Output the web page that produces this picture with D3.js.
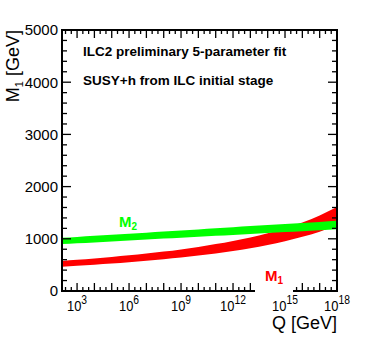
<!DOCTYPE html>
<html>
<head>
<meta charset="utf-8">
<script src="https://cdn.jsdelivr.net/npm/d3@7"></script>
<style>
  body { margin: 0; background: #fff; }
  svg text { font-family: "Liberation Sans", Arial, sans-serif; }
</style>
</head>
<body>
<div id="chart"></div>
<script>
const scaleQ = [135, 1e3, 1e4, 1e5, 1e6, 1e7, 1e8, 1e9, 1e10, 1e11, 1e12, 1e13, 1e14, 1e15, 1e16, 1e17, 1e18];

// M1 band (GeV)
const m1Low  = [466, 482, 503, 526, 551, 579, 609, 641, 679, 720, 767, 821, 883, 954, 1037, 1137, 1263];
const m1High = [576, 598, 623, 652, 683, 717, 755, 797, 845, 898, 959, 1027, 1107, 1202, 1313, 1447, 1607];

// M2 band (GeV)
const m2Low  = [898, 914, 931, 949, 968, 986, 1004, 1022, 1040, 1058, 1075, 1093, 1111, 1129, 1146, 1164, 1182];
const m2High = [1018, 1036, 1057, 1077, 1098, 1118, 1138, 1158, 1180, 1200, 1221, 1243, 1263, 1283, 1304, 1324, 1346];

const yTicks = [0, 1000, 2000, 3000, 4000, 5000];
const xLabelExp = [3, 6, 9, 12, 15, 18];
const infoLines = ['ILC2 preliminary 5-parameter fit', 'SUSY+h from ILC initial stage'];

const width = 366, height = 355;
const marginLeft = 62, plotRight = 337, marginTop = 30, plotBottom = 291;

const svg = d3.select('#chart').append('svg')
  .attr('width', width).attr('height', height);

const x = d3.scaleLog().domain([135, 1e18]).range([marginLeft, plotRight]);
const y = d3.scaleLinear().domain([0, 5000]).range([plotBottom, marginTop]);

const rows = scaleQ.map((q, i) => ({ q, l1: m1Low[i], h1: m1High[i], l2: m2Low[i], h2: m2High[i] }));

const $vis = svg.append('g');

// bands
$vis.append('path')
  .datum(rows)
  .attr('fill', '#ff0000')
  .attr('d', d3.area().curve(d3.curveMonotoneX)
    .x(d => x(d.q)).y0(d => y(d.l1)).y1(d => y(d.h1)));

$vis.append('path')
  .datum(rows)
  .attr('fill', '#00ff00')
  .attr('d', d3.area().curve(d3.curveMonotoneX)
    .x(d => x(d.q)).y0(d => y(d.l2)).y1(d => y(d.h2)));

// y ticks, minor every 200, on both sides
const $axes = svg.append('g').attr('stroke', '#000').attr('stroke-width', 1.3);
d3.range(0, 5001, 200).forEach(v => {
  const len = v % 1000 === 0 ? 9 : 5;
  $axes.append('line').attr('x1', marginLeft).attr('x2', marginLeft + len).attr('y1', y(v)).attr('y2', y(v));
  $axes.append('line').attr('x1', plotRight).attr('x2', plotRight - len).attr('y1', y(v)).attr('y2', y(v));
});

// x ticks: decades and thirds of decades
d3.range(2, 18.01, 1 / 3).forEach(e => {
  const q = Math.pow(10, e);
  if (q < 135 || q > 1e18 * 1.001) return;
  const isDec = Math.abs(e - Math.round(e)) < 1e-6;
  const len = isDec ? 8 : 4;
  const xx = x(q);
  $axes.append('line').attr('x1', xx).attr('x2', xx).attr('y1', plotBottom).attr('y2', plotBottom - len);
  $axes.append('line').attr('x1', xx).attr('x2', xx).attr('y1', marginTop).attr('y2', marginTop + len);
});

// frame
svg.append('rect')
  .attr('x', marginLeft).attr('y', marginTop)
  .attr('width', plotRight - marginLeft).attr('height', plotBottom - marginTop)
  .attr('fill', 'none').attr('stroke', '#000').attr('stroke-width', 2);

// y tick labels
svg.append('g').selectAll('text')
  .data(yTicks).enter().append('text')
  .attr('x', marginLeft - 4).attr('y', d => y(d))
  .attr('dy', '0.36em')
  .attr('text-anchor', 'end')
  .attr('font-size', 15)
  .text(d => d);

// x tick labels 10^n (a bit condensed like the original)
const xl = svg.append('g').selectAll('text')
  .data(xLabelExp).enter().append('text')
  .attr('transform', d => `translate(${x(Math.pow(10, d))},311) scale(0.86,1)`)
  .attr('text-anchor', 'middle')
  .attr('font-size', 15);
xl.append('tspan').text('10');
xl.append('tspan').attr('font-size', 12).attr('dy', -7).text(d => d);

// axis titles
svg.append('text')
  .attr('x', plotRight).attr('y', 329)
  .attr('text-anchor', 'end')
  .attr('font-size', 18)
  .text('Q [GeV]');

const yt = svg.append('text')
  .attr('transform', `translate(19,${marginTop}) rotate(-90)`)
  .attr('text-anchor', 'end')
  .attr('font-size', 18);
yt.append('tspan').text('M');
yt.append('tspan').attr('font-size', 11).attr('dy', 4).text('1');
yt.append('tspan').attr('dy', -4).text(' [GeV]');

// info text
svg.append('g').selectAll('text')
  .data(infoLines).enter().append('text')
  .attr('x', 83).attr('y', (d, i) => 56 + i * 29)
  .attr('font-size', 13.5)
  .attr('font-weight', 'bold')
  .text(d => d);

// curve labels
const m2 = svg.append('text')
  .attr('x', 119).attr('y', 227)
  .attr('font-size', 15).attr('font-weight', 'bold')
  .attr('fill', '#00ff00');
m2.append('tspan').text('M');
m2.append('tspan').attr('font-size', 10).attr('dy', 3).text('2');

svg.append('rect')
  .attr('x', 255).attr('y', 262).attr('width', 38).attr('height', 31)
  .attr('fill', '#fff');
const m1 = svg.append('text')
  .attr('x', 265).attr('y', 281)
  .attr('font-size', 15).attr('font-weight', 'bold')
  .attr('fill', '#ff0000');
m1.append('tspan').text('M');
m1.append('tspan').attr('font-size', 10).attr('dy', 3).text('1');
</script>
</body>
</html>
